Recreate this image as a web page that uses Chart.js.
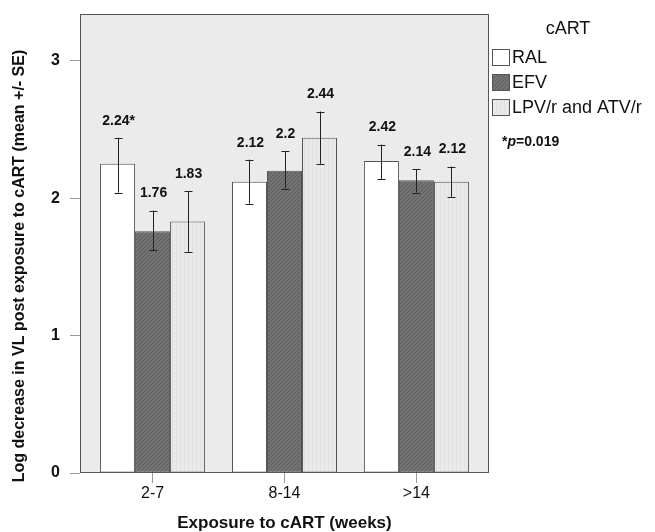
<!DOCTYPE html>
<html>
<head>
<meta charset="utf-8">
<script src="https://cdn.jsdelivr.net/npm/chart.js@4/dist/chart.umd.min.js"></script>
<style>
  html, body { margin: 0; padding: 0; background: #fff; }
  #wrap { width: 655px; height: 532px; }
</style>
</head>
<body>
<div id="wrap"><canvas id="chart" width="655" height="532"></canvas></div>
<script>
// Data
const categories = ["2-7", "8-14", ">14"];
const yTicks = [0, 1, 2, 3];

const ralMean = [2.25, 2.12, 2.27];
const ralLow  = [2.04, 1.96, 2.14];
const ralHigh = [2.44, 2.28, 2.39];
const ralText = ["2.24*", "2.12", "2.42"];

const efvMean = [1.76, 2.20, 2.13];
const efvLow  = [1.62, 2.07, 2.04];
const efvHigh = [1.91, 2.34, 2.21];
const efvText = ["1.76", "2.2", "2.14"];

const lpvMean = [1.83, 2.44, 2.12];
const lpvLow  = [1.61, 2.25, 2.01];
const lpvHigh = [2.05, 2.63, 2.23];
const lpvText = ["1.83", "2.44", "2.12"];

const FONT = "'Liberation Sans', Arial, sans-serif";

// fill patterns
function hatchPattern() {
  const c = document.createElement("canvas");
  c.width = 4; c.height = 4;
  const g = c.getContext("2d");
  g.fillStyle = "#737373";
  g.fillRect(0, 0, 4, 4);
  g.strokeStyle = "#5c5c5c";
  g.lineWidth = 1;
  g.beginPath();
  g.moveTo(0, 4); g.lineTo(4, 0);
  g.moveTo(-1, 1); g.lineTo(1, -1);
  g.moveTo(3, 5); g.lineTo(5, 3);
  g.stroke();
  return g.createPattern(c, "repeat");
}
function stripePattern() {
  const c = document.createElement("canvas");
  c.width = 4; c.height = 4;
  const g = c.getContext("2d");
  g.fillStyle = "#e9e9e9";
  g.fillRect(0, 0, 4, 4);
  g.fillStyle = "#e1e1e1";
  g.fillRect(0, 0, 1, 4);
  return g.createPattern(c, "repeat");
}

const toXY = arr => arr.map((v, i) => ({ x: i, y: v }));

const series = [
  { label: "RAL", mean: ralMean, low: ralLow, high: ralHigh, text: ralText, fill: "#ffffff" },
  { label: "EFV", mean: efvMean, low: efvLow, high: efvHigh, text: efvText, fill: hatchPattern() },
  { label: "LPV/r and ATV/r", mean: lpvMean, low: lpvLow, high: lpvHigh, text: lpvText, fill: stripePattern() },
];

// plot background + frame
const framePlugin = {
  id: "frame",
  beforeDraw(chart) {
    const { ctx, chartArea: a } = chart;
    ctx.save();
    ctx.fillStyle = "#ebebeb";
    ctx.fillRect(a.left, a.top, a.right - a.left, a.bottom - a.top);
    ctx.restore();
  },
  afterDraw(chart) {
    const { ctx, chartArea: a } = chart;
    ctx.save();
    ctx.strokeStyle = "#555";
    ctx.lineWidth = 1;
    ctx.strokeRect(a.left + 0.5, a.top + 0.5, a.right - a.left - 1, a.bottom - a.top - 1);
    ctx.restore();
  }
};

// error bars and value labels
const errorPlugin = {
  id: "errors",
  afterDatasetsDraw(chart) {
    const { ctx } = chart;
    const ys = chart.scales.y;
    ctx.save();
    series.forEach((s, di) => {
      const meta = chart.getDatasetMeta(di);
      meta.data.forEach((bar, i) => {
        const x = Math.round(bar.x) + 0.5;
        const yl = ys.getPixelForValue(s.low[i]);
        const yh = ys.getPixelForValue(s.high[i]);
        ctx.strokeStyle = "#222";
        ctx.lineWidth = 1;
        ctx.beginPath();
        ctx.moveTo(x, yl); ctx.lineTo(x, yh);
        ctx.moveTo(x - 4, Math.round(yl) + 0.5); ctx.lineTo(x + 4, Math.round(yl) + 0.5);
        ctx.moveTo(x - 4, Math.round(yh) + 0.5); ctx.lineTo(x + 4, Math.round(yh) + 0.5);
        ctx.stroke();
        ctx.fillStyle = "#111";
        ctx.font = "bold 14px " + FONT;
        ctx.textAlign = "center";
        ctx.textBaseline = "middle";
        ctx.fillText(s.text[i], bar.x + 1, yh - 17);
      });
    });
    ctx.restore();
  }
};

// legend, annotation and axis titles
const legendPlugin = {
  id: "sideLegend",
  afterDraw(chart) {
    const { ctx, chartArea: a } = chart;
    const x0 = a.right + 3;
    ctx.save();
    ctx.fillStyle = "#111";
    ctx.textBaseline = "middle";
    ctx.textAlign = "center";
    ctx.font = "18px " + FONT;
    ctx.fillText("cART", a.right + 79, 29);
    ctx.textAlign = "left";
    series.forEach((s, i) => {
      const top = 49 + i * 25;
      ctx.fillStyle = s.fill;
      ctx.fillRect(x0, top, 18, 17);
      ctx.strokeStyle = "#555";
      ctx.lineWidth = 1;
      ctx.strokeRect(x0 + 0.5, top + 0.5, 17, 16);
      ctx.fillStyle = "#111";
      ctx.font = "18px " + FONT;
      ctx.fillText(s.label, x0 + 20, top + 9);
    });
    // p-value note
    let px = a.right + 13;
    ctx.font = "bold 14px " + FONT;
    ctx.fillText("*", px, 142);
    px += ctx.measureText("*").width;
    ctx.font = "italic bold 14px " + FONT;
    ctx.fillText("p", px, 142);
    px += ctx.measureText("p").width;
    ctx.font = "bold 14px " + FONT;
    ctx.fillText("=0.019", px, 142);

    // axis titles
    ctx.textAlign = "center";
    ctx.font = "bold 17px " + FONT;
    ctx.fillText("Exposure to cART (weeks)", (a.left + a.right) / 2, 523);
    ctx.translate(20, chart.height / 2);
    ctx.rotate(-Math.PI / 2);
    ctx.font = "bold 16px " + FONT;
    ctx.fillText("Log decrease in VL post exposure to cART (mean +/- SE)", 0, 0);
    ctx.restore();
  }
};

new Chart(document.getElementById("chart"), {
  type: "bar",
  data: {
    datasets: series.map(s => ({
      label: s.label,
      data: toXY(s.mean),
      backgroundColor: s.fill,
      borderColor: "#555",
      borderWidth: 1,
      borderSkipped: false,
      categoryPercentage: 0.796,
      barPercentage: 1.0,
    })),
  },
  options: {
    responsive: false,
    animation: false,
    layout: { padding: { left: 0, top: 14, right: 166, bottom: 0 } },
    plugins: {
      legend: { display: false },
      tooltip: { enabled: false },
    },
    scales: {
      x: {
        type: "linear",
        bounds: "data",
        offset: false,
        min: -0.55,
        max: 2.55,
        afterBuildTicks: (scale) => { scale.ticks = categories.map((c, i) => ({ value: i })); },
        afterFit: (scale) => { scale.height = 59; scale.paddingLeft = 0; scale.paddingRight = 0; },
        grid: { offset: false, drawOnChartArea: false, drawTicks: true, tickLength: 10, color: "#999" },
        border: { display: false },
        ticks: {
          autoSkip: false,
          maxRotation: 0,
          padding: 1,
          color: "#111",
          font: { family: FONT, size: 16 },
          callback: (v) => categories[Math.round(v)],
        },
      },
      y: {
        min: 0,
        max: 3.34,
        afterBuildTicks: (scale) => { scale.ticks = yTicks.map(v => ({ value: v })); },
        afterFit: (scale) => { scale.width = 80; scale.paddingTop = 0; scale.paddingBottom = 0; },
        grid: { drawOnChartArea: false, drawTicks: true, tickLength: 10, color: "#999" },
        border: { display: false },
        ticks: {
          padding: 10,
          color: "#111",
          font: { family: FONT, size: 16, weight: "bold" },
        },
      },
    },
  },
  plugins: [framePlugin, errorPlugin, legendPlugin],
});
</script>
</body>
</html>
